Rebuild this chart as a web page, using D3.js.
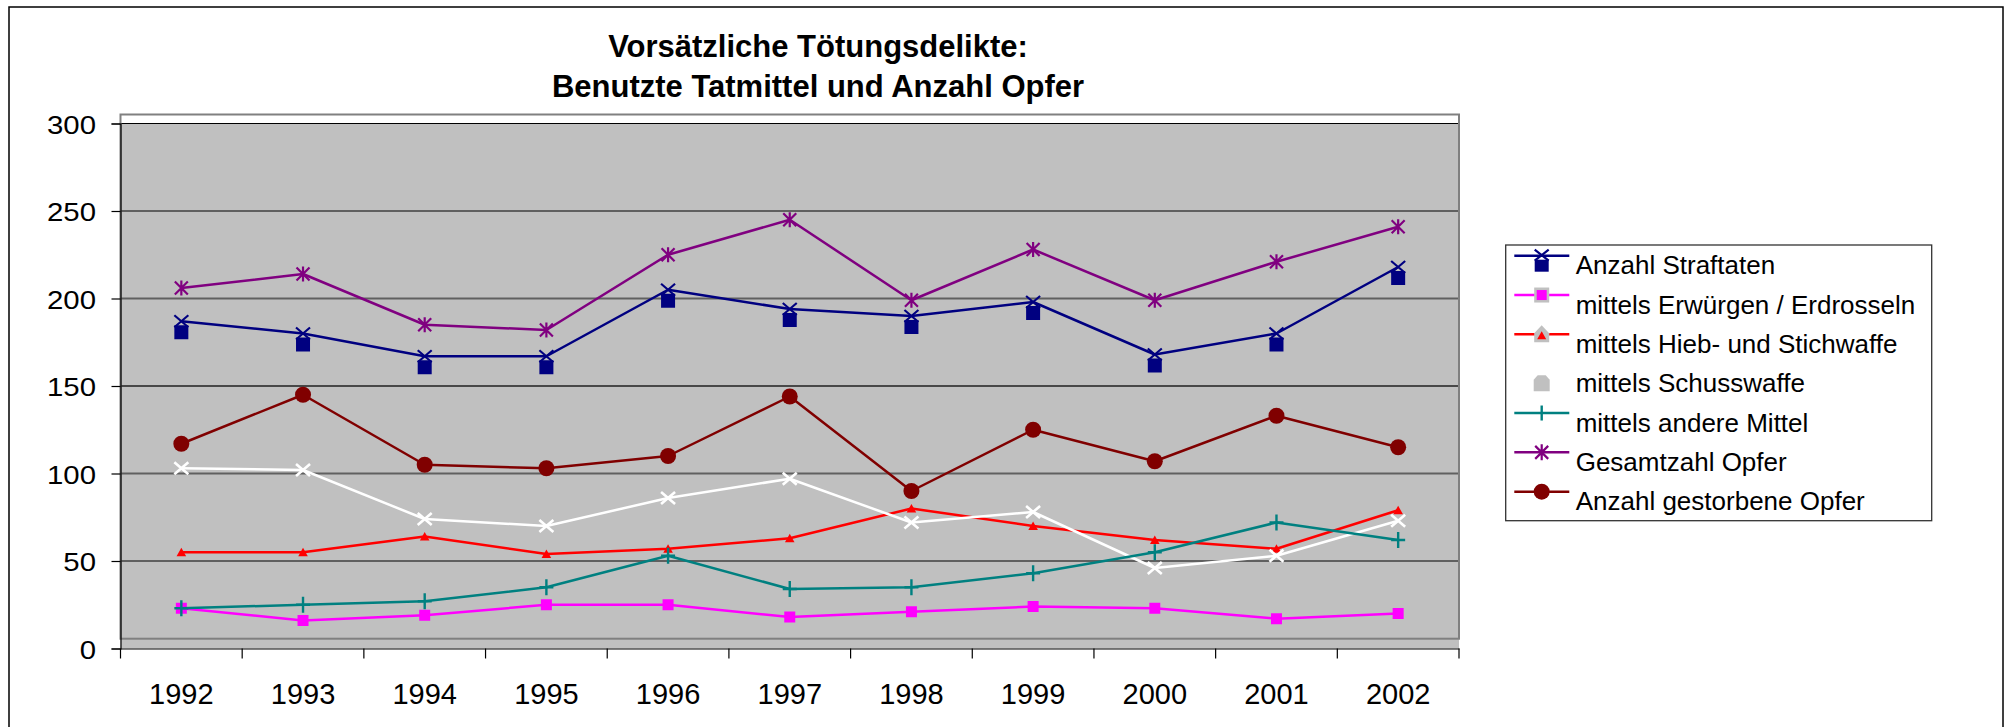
<!DOCTYPE html>
<html><head><meta charset="utf-8">
<script src="https://cdn.jsdelivr.net/npm/d3@7"></script>
<style>
body{margin:0;background:#fff;overflow:hidden}
text{font-family:"Liberation Sans",Arial,Helvetica,sans-serif;fill:#000}
</style>
</head><body>
<svg id="c" width="2011" height="727"></svg>
<script>
// ---------- data ----------
const years = ["1992","1993","1994","1995","1996","1997","1998","1999","2000","2001","2002"];
const yTicks = [0, 50, 100, 150, 200, 250, 300];
const titleLines = ["Vorsätzliche Tötungsdelikte:", "Benutzte Tatmittel und Anzahl Opfer"];
const seriesNames = ["Anzahl Straftaten","mittels Erwürgen / Erdrosseln","mittels Hieb- und Stichwaffe","mittels Schusswaffe","mittels andere Mittel","Gesamtzahl Opfer","Anzahl gestorbene Opfer"];
const anzahlStraftaten = [187,180,167,167,205,194,190,198,168,180,218];
const erwuergen        = [23,16,19,25,25,18,21,24,23,17,20];
const hiebStich        = [55,55,64,54,57,63,80,70,62,57,79];
const schusswaffe      = [103,102,74,70,86,97,72,78,46,53,73];
const andereMittel     = [23,25,27,35,53,34,35,43,55,72,62];
const gesamtOpfer      = [206,214,185,182,225,245,199,228,199,221,241];
const gestorbeneOpfer  = [117,145,105,103,110,144,90,125,107,133,115];

// ---------- styles ----------
const seriesValues = [anzahlStraftaten, erwuergen, hiebStich, schusswaffe, andereMittel, gesamtOpfer, gestorbeneOpfer];
const seriesStyle = [
  {color:"#000080", marker:"xsq"},
  {color:"#ff00ff", marker:"square"},
  {color:"#ff0000", marker:"triangle"},
  {color:"#ffffff", marker:"x"},
  {color:"#008080", marker:"plus"},
  {color:"#800080", marker:"star"},
  {color:"#800000", marker:"circle"}
];

const svg = d3.select("#c");
const X0 = 120.5, X1 = 1459;
const x = d3.scaleBand().domain(years).range([X0, X1]).padding(0);
const y = d3.scaleLinear().domain([0, 300]).range([648.5, 123.5]);
const cx = d => x(d) + x.bandwidth() / 2;

// outer chart border
svg.append("rect").attr("x", 9).attr("y", 7).attr("width", 1994).attr("height", 760)
  .attr("fill", "#fff").attr("stroke", "#000").attr("stroke-width", 1.5);

// plot area fill (Excel offset rendering)
svg.append("rect").attr("x", X0).attr("y", y(300)).attr("width", X1 - X0).attr("height", y(0) - y(300))
  .attr("fill", "#c0c0c0");

// gridlines
const gridStyle = {50:["#000",1],100:["#606060",2],150:["#202020",1.4],200:["#606060",2],250:["#000",1],300:["#000",1]};
svg.append("g").selectAll("line").data(yTicks.filter(v => v > 0)).join("line")
  .attr("x1", X0).attr("x2", X1).attr("y1", d => y(d)).attr("y2", d => y(d))
  .attr("stroke", d => gridStyle[d][0]).attr("stroke-width", d => gridStyle[d][1]);

// plot border
svg.append("rect").attr("x", X0).attr("y", y(300) - 9).attr("width", X1 - X0).attr("height", y(0) - y(300) - 0.8)
  .attr("fill", "none").attr("stroke", "#808080").attr("stroke-width", 2);

// y axis
const yAxis = svg.append("g").attr("transform", `translate(${X0},0)`)
  .call(d3.axisLeft(y).tickValues(yTicks).tickSize(9).tickFormat(d3.format("d")));
yAxis.select(".domain").attr("stroke", "#000").attr("stroke-width", 1.2);
yAxis.selectAll(".tick line").attr("stroke", "#000").attr("stroke-width", 1.2);
yAxis.selectAll(".tick text").remove();
svg.append("g").selectAll("text").data(yTicks).join("text")
  .attr("transform", d => `translate(96,${y(d) + 10.3}) scale(1.13,1)`)
  .attr("text-anchor", "end").attr("font-size", 26).text(d => d);

// x axis
const xAxis = svg.append("g").attr("transform", `translate(0,${y(0)})`)
  .call(d3.axisBottom(x).tickSize(0).tickSizeOuter(0));
xAxis.select(".domain").attr("stroke", "#000").attr("stroke-width", 1.2);
xAxis.selectAll(".tick text").attr("font-size", 29).attr("dy", null).attr("y", 0)
  .attr("transform", "translate(0,55.5)").attr("fill", "#000")
  .style("font-family", '"Liberation Sans",Arial,sans-serif');
const bounds = years.map(d => x(d)).concat([X1]);
svg.append("g").selectAll("line").data(bounds).join("line")
  .attr("x1", d => d).attr("x2", d => d).attr("y1", y(0)).attr("y2", y(0) + 10)
  .attr("stroke", "#000").attr("stroke-width", 1.2);

// title
svg.append("g").selectAll("text").data(titleLines).join("text")
  .attr("x", 818).attr("y", (d, i) => 56.7 + i * 40).attr("text-anchor", "middle")
  .attr("font-size", 31).attr("font-weight", "bold").text(d => d);

// ---------- markers ----------
function drawMarker(g, type, color) {
  if (type === "x" || type === "xsq") {
    const s = 7;
    g.append("path").attr("d", `M${-s},${-s + 1}L${s},${s - 1}M${-s},${s - 1}L${s},${-s + 1}`)
      .attr("stroke", color).attr("stroke-width", type === "x" ? 2.6 : 2.2).attr("fill", "none");
  } else if (type === "square") {
    g.append("rect").attr("x", -5.5).attr("y", -5.5).attr("width", 11).attr("height", 11).attr("fill", color);
  } else if (type === "triangle") {
    g.append("path").attr("d", "M0,-4.5L4.8,4L-4.8,4Z").attr("fill", color);
  } else if (type === "plus") {
    g.append("path").attr("d", "M0,-8V8M-7,0H7").attr("stroke", color).attr("stroke-width", 2.4).attr("fill", "none");
  } else if (type === "star") {
    const s = 6.5;
    g.append("path").attr("d", `M${-s},${-s}L${s},${s}M${-s},${s}L${s},${-s}M0,${-7.5}V7.5`)
      .attr("stroke", color).attr("stroke-width", 2.2).attr("fill", "none");
  } else if (type === "circle") {
    g.append("circle").attr("r", 8).attr("fill", color);
  }
}

const line = d3.line().x((d, i) => cx(years[i])).y(d => y(d));
seriesValues.forEach((vals, si) => {
  const st = seriesStyle[si];
  const g = svg.append("g");
  g.append("path").datum(vals).attr("d", line).attr("fill", "none")
    .attr("stroke", st.color).attr("stroke-width", 2.5).attr("stroke-linejoin", "round");
  if (st.marker === "xsq") {
    g.selectAll("rect.sq").data(vals).join("rect").attr("class", "sq")
      .attr("x", (d, i) => cx(years[i]) - 7).attr("y", d => y(d) + 11 - 7)
      .attr("width", 14).attr("height", 14).attr("fill", st.color);
  }
  vals.forEach((v, i) => {
    const mg = g.append("g").attr("transform", `translate(${cx(years[i])},${y(v)})`);
    drawMarker(mg, st.marker, st.color);
  });
});

// ---------- legend ----------
const LX = 1505.7, LY = 245, LW = 426, LH = 275.7;
const leg = svg.append("g");
leg.append("rect").attr("x", LX).attr("y", LY).attr("width", LW).attr("height", LH)
  .attr("fill", "#fff").attr("stroke", "#333").attr("stroke-width", 1.3);
const rowY = i => 255.7 + i * 39.33;
const mx = 1541.7;
seriesNames.forEach((name, i) => {
  const st = seriesStyle[i];
  const ly = rowY(i);
  leg.append("line").attr("x1", 1514.3).attr("x2", 1569.3).attr("y1", ly).attr("y2", ly)
    .attr("stroke", st.color).attr("stroke-width", 2.5);
  const g = leg.append("g").attr("transform", `translate(${mx},${ly})`);
  if (st.marker === "xsq") {
    g.append("rect").attr("x", -7).attr("y", 4).attr("width", 14).attr("height", 12).attr("fill", st.color);
    g.append("path").attr("d", "M-7,-6L7,5M-7,5L7,-6").attr("stroke", st.color).attr("stroke-width", 2.2);
  } else if (st.marker === "square") {
    g.append("rect").attr("x", -7.5).attr("y", -7.5).attr("width", 15).attr("height", 15).attr("fill", "#c0c0c0");
    g.append("rect").attr("x", -5).attr("y", -5).attr("width", 10).attr("height", 10).attr("fill", st.color);
  } else if (st.marker === "triangle") {
    g.append("path").attr("d", "M-7.5,8V-1L0,-9L7.5,-1V8Z").attr("fill", "#c0c0c0");
    g.append("path").attr("d", "M0,-3L4.5,5L-4.5,5Z").attr("fill", st.color);
  } else if (st.marker === "x") {
    g.append("path").attr("d", "M-8,17.5V6L-4,1.5H4L8,6V17.5Z").attr("fill", "#c0c0c0");
  } else if (st.marker === "plus") {
    g.append("path").attr("d", "M0,-7.5V7.5").attr("stroke", st.color).attr("stroke-width", 2.4);
  } else if (st.marker === "star") {
    g.append("path").attr("d", "M-6.5,-6.5L6.5,6.5M-6.5,6.5L6.5,-6.5M0,-8V8").attr("stroke", st.color).attr("stroke-width", 2.2);
  } else if (st.marker === "circle") {
    g.append("circle").attr("r", 8).attr("fill", st.color);
  }
  leg.append("text").attr("x", 1575.7).attr("y", ly + 18.6).attr("font-size", 26).text(name);
});
</script>
</body></html>
